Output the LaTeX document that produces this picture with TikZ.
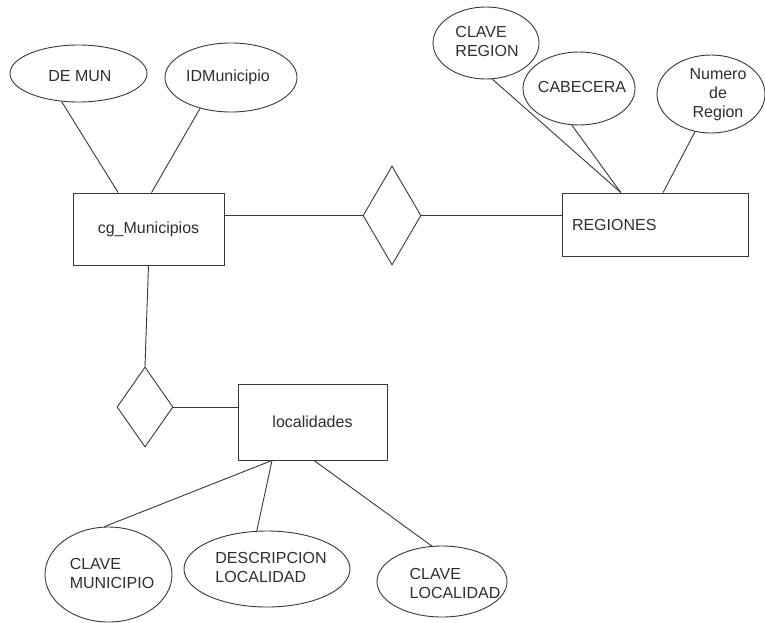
\documentclass[tikz,border=0pt]{standalone}
\usepackage{fontspec}
\setmainfont{Liberation Sans}
\usepackage{tikz}
\usetikzlibrary{shapes.geometric,calc}
\definecolor{inkline}{HTML}{383838}
\definecolor{inktext}{HTML}{2E2E2E}

\begin{document}
\begin{tikzpicture}[
        x=1pt, y=-1pt,
        every node/.style={font=\fontsize{16}{19}\selectfont, text=inktext},
        entity/.style={rectangle, draw=inkline, line width=0.9pt, inner sep=0pt},
        attr/.style={ellipse, draw=inkline, line width=0.9pt, inner sep=0pt},
        rel/.style={diamond, draw=inkline, line width=0.9pt, inner sep=0pt},
        lbl/.style={inner sep=0pt, align=left},
        link/.style={draw=inkline, line width=0.9pt}
    ]
        \useasboundingbox (0,0) rectangle (765,622);

        % entities
        \node[entity, minimum width=151pt, minimum height=72pt] (mun) at (148.5,229) {cg\_Municipios};
        \node[entity, minimum width=186pt, minimum height=63pt,
              text width=166pt, align=left] (reg) at (655,224.5) {REGIONES};
        \node[entity, minimum width=149pt, minimum height=76pt] (loc) at (312.5,422) {localidades};

        % relationships
        \node[rel, minimum width=58pt, minimum height=99pt] (munreg) at (392,215.5) {};
        \node[rel, minimum width=56pt, minimum height=80pt] (munloc) at (145,407) {};

        % attributes of cg_Municipios
        \node[attr, minimum width=137pt, minimum height=57pt] (demun) at (78.5,73.5) {};
        \node[lbl] (demun-t) at (80,76) {DE MUN};
        \node[attr, minimum width=132pt, minimum height=69pt] (idmun) at (231,77.5) {};
        \node[lbl] (idmun-t) at (228,77) {IDMunicipio};

        % attributes of REGIONES
        \node[attr, minimum width=106pt, minimum height=72pt] (clvreg) at (486,43) {};
        \node[lbl] (clvreg-t) at (487,41) {CLAVE\\REGION};
        \node[attr, minimum width=112pt, minimum height=73pt] (cabec) at (579,88.5) {};
        \node[lbl] (cabec-t) at (582,87) {CABECERA};
        \node[attr, minimum width=108pt, minimum height=78pt] (numreg) at (711,94) {};
        \node[lbl, align=center] (numreg-t) at (718,95) {Numero\\de\\Region};

        % attributes of localidades
        \node[attr, minimum width=127pt, minimum height=95pt] (clvmun) at (108.5,574.5) {};
        \node[lbl] (clvmun-t) at (112,573) {CLAVE\\MUNICIPIO};
        \node[attr, minimum width=166pt, minimum height=76pt] (desloc) at (267,569) {};
        \node[lbl] (desloc-t) at (271,567) {DESCRIPCION\\LOCALIDAD};
        \node[attr, minimum width=130pt, minimum height=71pt] (clvloc) at (442,581.5) {};
        \node[lbl] (clvloc-t) at (455,583) {CLAVE\\LOCALIDAD};

        % attachment points on the boxes
        \coordinate (muntop1) at ($(mun.north west)!0.30!(mun.north east)$);
        \coordinate (muntop2) at ($(mun.north west)!0.52!(mun.north east)$);
        \coordinate (regtop1) at ($(reg.north west)!0.317!(reg.north east)$);
        \coordinate (regtop2) at ($(reg.north west)!0.543!(reg.north east)$);
        \coordinate (locbot1) at ($(loc.south west)!0.23!(loc.south east)$);
        \coordinate (locbot2) at ($(loc.south west)!0.51!(loc.south east)$);

        % connectors
        \draw[link] (demun.239) -- (muntop1);
        \draw[link] (idmun.225) -- (muntop2);
        \draw[link] (munreg.west -| mun.east) -- (munreg.west);
        \draw[link] (munreg.east) -- (munreg.east -| reg.west);
        \draw[link] (clvreg.280) -- (regtop1);
        \draw[link] (cabec.259) -- (regtop1);
        \draw[link] (numreg.247) -- (regtop2);
        \draw[link] (mun.south) -- (munloc.north);
        \draw[link] (munloc.east) -- (munloc.east -| loc.west);
        \draw[link] (locbot1) -- (clvmun.95);
        \draw[link] (locbot1) -- (desloc.105);
        \draw[link] (locbot2) -- (clvloc.106);
    \end{tikzpicture}
\end{document}
